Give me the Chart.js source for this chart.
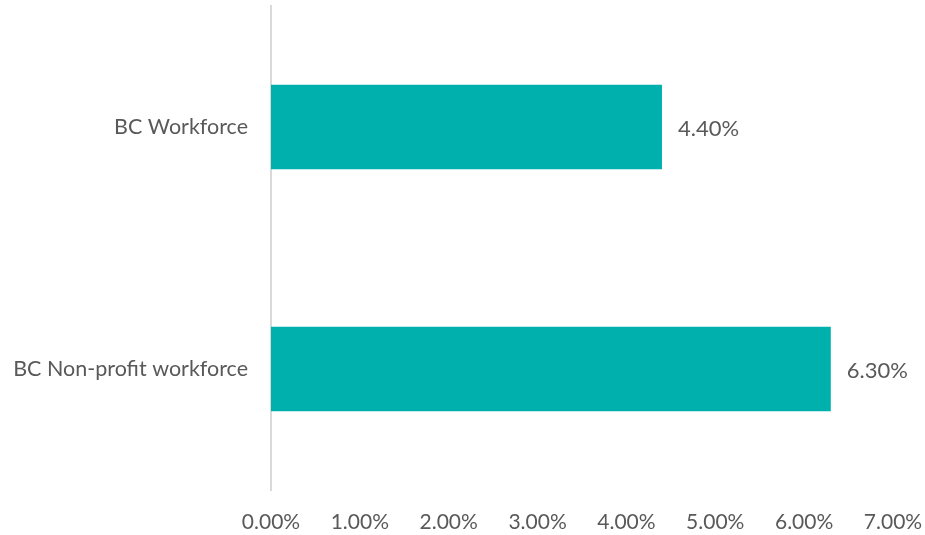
<!DOCTYPE html>
<html>
<head>
<meta charset="utf-8">
<script src="https://cdn.jsdelivr.net/npm/chart.js@4"></script>
<style>
  html, body { margin: 0; padding: 0; background: #fff; }
  #wrap { width: 925px; height: 535px; }
</style>
</head>
<body>
<div id="wrap"><canvas id="chart" width="925" height="535"></canvas></div>
<script>
const categories = ['BC Workforce', 'BC Non-profit workforce'];
const values = [4.4, 6.3];
const valueLabels = ['4.40%', '6.30%'];
const xTicks = [0, 1, 2, 3, 4, 5, 6, 7];

const TEXT = '#595959';
const FONT = 'Lato, "Open Sans", sans-serif';

// draws the value to the right of each bar
const barLabels = {
  id: 'barLabels',
  afterDatasetsDraw(chart) {
    const ctx = chart.ctx;
    const meta = chart.getDatasetMeta(0);
    ctx.save();
    ctx.fillStyle = TEXT;
    ctx.font = '22px ' + FONT;
    ctx.textAlign = 'left';
    ctx.textBaseline = 'middle';
    meta.data.forEach((bar, i) => {
      ctx.fillText(valueLabels[i], bar.x + 16, bar.y + 2);
    });
    ctx.restore();
  }
};

function noPad(axis) {
  axis.paddingLeft = axis.paddingRight = axis.paddingTop = axis.paddingBottom = 0;
}

new Chart(document.getElementById('chart'), {
  type: 'bar',
  data: {
    labels: categories,
    datasets: [{
      data: values,
      backgroundColor: '#00B0AD',
      borderWidth: 0,
      barPercentage: 0.35,
      categoryPercentage: 1
    }]
  },
  options: {
    indexAxis: 'y',
    responsive: false,
    animation: false,
    layout: { padding: { top: 6, right: 32, left: 0, bottom: 0 } },
    plugins: { legend: { display: false }, tooltip: { enabled: false } },
    scales: {
      x: {
        min: 0,
        max: 7,
        afterBuildTicks: axis => { axis.ticks = xTicks.map(v => ({ value: v })); },
        afterFit: axis => { axis.height = 45; noPad(axis); },
        grid: { display: false, drawTicks: false },
        border: { display: false },
        ticks: {
          color: TEXT,
          font: { family: FONT, size: 21 },
          padding: 20,
          maxRotation: 0,
          autoSkip: false,
          callback: v => v.toFixed(2) + '%'
        }
      },
      y: {
        afterFit: axis => { axis.width = 271; noPad(axis); },
        grid: { display: false, drawTicks: false },
        border: { display: true, color: '#D9D9D9', width: 2 },
        ticks: {
          color: TEXT,
          font: { family: FONT, size: 21.5 },
          padding: 23
        }
      }
    }
  },
  plugins: [barLabels]
});
</script>
</body>
</html>
